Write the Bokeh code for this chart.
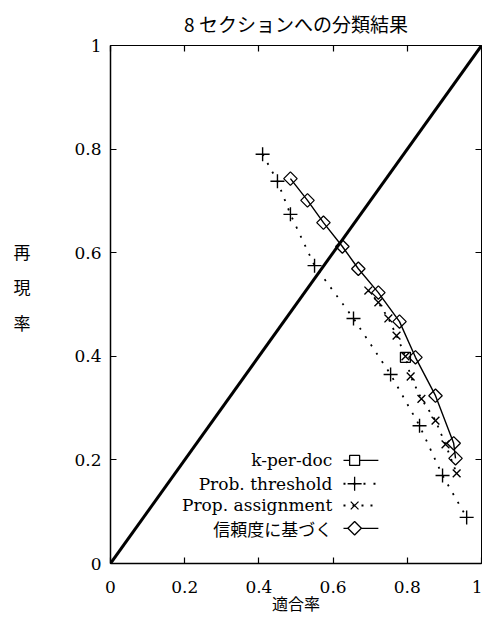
import math
from bokeh.plotting import figure
from bokeh.models import Range1d, FixedTicker, LinearAxis, Label
from bokeh.embed import file_html
from bokeh.resources import INLINE

# ---- data ----
diag_x = [0, 1]
diag_y = [0, 1]

kdoc_x = [0.795]
kdoc_y = [0.398]

prob_x = [0.41, 0.45, 0.485, 0.55, 0.655, 0.755, 0.833, 0.895, 0.96]
prob_y = [0.79, 0.738, 0.674, 0.575, 0.473, 0.365, 0.266, 0.170, 0.089]

prop_x = [0.695, 0.722, 0.749, 0.771, 0.795, 0.809, 0.838, 0.876, 0.903, 0.933]
prop_y = [0.527, 0.504, 0.473, 0.44, 0.40, 0.361, 0.318, 0.276, 0.23, 0.174]

conf_x = [0.485, 0.531, 0.574, 0.625, 0.668, 0.722, 0.779, 0.822, 0.876, 0.925, 0.930]
conf_y = [0.743, 0.701, 0.658, 0.612, 0.569, 0.523, 0.467, 0.398, 0.324, 0.232, 0.203]

ticks = [0, 0.2, 0.4, 0.6, 0.8, 1]
tick_labels = ["0", "0.2", "0.4", "0.6", "0.8", "1"]

series_names = ["k-per-doc", "Prob. threshold", "Prop. assignment", "信頼度に基づく"]
title_text = "8 セクションへの分類結果"
x_title = "適合率"
y_title = "再\n現\n率\n"

SERIF = "DejaVu Serif"
CJK = "Noto Sans CJK JP"

p = figure(frame_width=371, frame_height=518,
           x_range=Range1d(0, 1), y_range=Range1d(0, 1),
           output_backend="svg", toolbar_location=None,
           min_border_left=110, min_border_right=1,
           min_border_top=45, min_border_bottom=55,
           title=title_text)
p.background_fill_color = "white"
p.border_fill_color = "white"
p.outline_line_color = "black"
p.outline_line_width = 1
p.xgrid.grid_line_color = None
p.ygrid.grid_line_color = None

p.title.align = "center"
p.title.vertical_align = "top"
p.title.text_font = CJK
p.title.text_font_size = "19px"
p.title.text_font_style = "normal"
p.title.text_color = "black"
p.title.standoff = 14

overrides = dict(zip(ticks, tick_labels))
for ax in (p.xaxis[0], p.yaxis[0]):
    ax.ticker = FixedTicker(ticks=ticks)
    ax.major_label_overrides = overrides
    ax.major_tick_in = 6
    ax.major_tick_out = 0
    ax.minor_tick_line_color = None
    ax.axis_line_width = 1.5
    ax.major_tick_line_width = 1.2
    ax.major_label_text_font = SERIF
    ax.major_label_text_font_size = "17px"
    ax.major_label_text_color = "black"
    ax.axis_label_text_font = CJK
    ax.axis_label_text_font_size = "16px"
    ax.axis_label_text_font_style = "normal"
    ax.axis_label_text_color = "black"
p.xaxis[0].major_label_standoff = 17
p.yaxis[0].major_label_standoff = 9
p.xaxis[0].axis_label = x_title
p.xaxis[0].axis_label_standoff = -5
p.yaxis[0].axis_label = y_title
p.yaxis[0].axis_label_orientation = "horizontal"
p.yaxis[0].axis_label_standoff = 41
p.yaxis[0].axis_label_text_font_size = "17px"
p.yaxis[0].axis_label_text_line_height = 1.42

blank = {t: "" for t in ticks}
for side in ("above", "right"):
    ax = LinearAxis(ticker=FixedTicker(ticks=ticks), major_tick_in=6, major_tick_out=0,
                    major_label_overrides=blank, major_label_standoff=0,
                    minor_tick_line_color=None, axis_line_color=None,
                    major_tick_line_width=1.2)
    p.add_layout(ax, side)

# diagonal
p.line(diag_x, diag_y, line_color="black", line_width=3)

# series
p.line(kdoc_x, kdoc_y, line_color="black", line_width=1.3)
p.scatter(kdoc_x, kdoc_y, marker="square", size=10, fill_color=None, line_color="black", line_width=1.3)

p.line(prob_x, prob_y, line_color="black", line_width=1.8, line_dash="2 8")
p.scatter(prob_x, prob_y, marker="cross", size=14, line_color="black", line_width=1.4)

p.line(prop_x, prop_y, line_color="black", line_width=1.8, line_dash="2 7")
p.scatter(prop_x, prop_y, marker="x", size=11, line_color="black", line_width=1.4)

p.line(conf_x, conf_y, line_color="black", line_width=1.4)
p.scatter(conf_x, conf_y, marker="square", angle=math.pi / 4, size=9.5,
          fill_color=None, line_color="black", line_width=1.3)

# manual legend (label on the left, key on the right)
LEG_TEXT_X = 0.598
LEG_X0, LEG_X1, LEG_XM = 0.628, 0.722, 0.658
LEG_ROWS = [0.199, 0.154, 0.112, 0.068]
styles = [
    dict(dash="solid", marker="square", size=10, angle=0.0),
    dict(dash="2 8", marker="cross", size=14, angle=0.0),
    dict(dash="2 7", marker="x", size=11, angle=0.0),
    dict(dash="solid", marker="square", size=9.5, angle=math.pi / 4),
]
for name, ry, st in zip(series_names, LEG_ROWS, styles):
    font = CJK if name == series_names[3] else SERIF
    p.add_layout(Label(x=LEG_TEXT_X, y=ry, text=name, text_align="right",
                       text_baseline="middle", text_font=font,
                       text_font_size="17px", text_color="black"))
    p.line([LEG_X0, LEG_X1], [ry, ry], line_color="black",
           line_width=1.8 if st["dash"] != "solid" else 1.3, line_dash=st["dash"])
    p.scatter([LEG_XM], [ry], marker=st["marker"], size=st["size"], angle=st["angle"],
              fill_color="white" if st["marker"] == "square" else None,
              line_color="black", line_width=1.3)

open("out.html", "w").write(file_html(p, INLINE))
